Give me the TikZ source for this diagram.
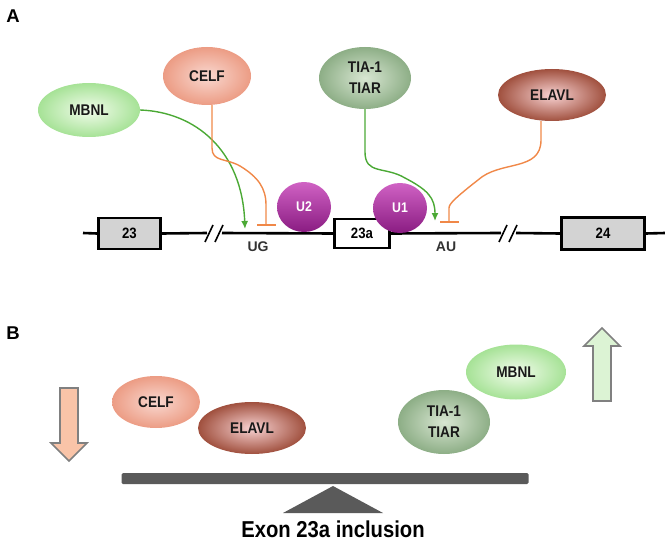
\documentclass[tikz,border=0pt]{standalone}
\usepackage{fontspec}
\setmainfont{Liberation Sans}
\newfontfamily\narrowbold[FakeStretch=0.88]{Liberation Sans Bold}
\usetikzlibrary{shapes.geometric,arrows.meta}

\definecolor{mbnlin}{HTML}{F2FCEC}
\definecolor{mbnlout}{HTML}{A6E296}
\definecolor{celfin}{HTML}{F9D8D0}
\definecolor{celfout}{HTML}{EC9C84}
\definecolor{tiain}{HTML}{D8E6D2}
\definecolor{tiaout}{HTML}{8DAE86}
\definecolor{elavlin}{HTML}{F8D2D2}
\definecolor{elavlout}{HTML}{A0503E}
\definecolor{snrtop}{HTML}{D062C4}
\definecolor{snrbot}{HTML}{8A1C82}
\definecolor{actgreen}{HTML}{4BA935}
\definecolor{reporange}{HTML}{F08848}
\definecolor{exongray}{HTML}{D3D3D3}
\definecolor{beamgray}{HTML}{5A5A5A}
\definecolor{downfill}{HTML}{F9C4A8}
\definecolor{upfill}{HTML}{DCF3D4}

\begin{document}
\begin{tikzpicture}[
      x=1pt, y=-1pt,
      every node/.style={font=\bfseries},
      protein/.style={ellipse, inner sep=0pt, align=center, text=black!90,
        font=\narrowbold\fontsize{15.5}{21}\selectfont},
      mbnlcol/.style={shading=radial, inner color=mbnlin, outer color=mbnlout},
      celfcol/.style={shading=radial, inner color=celfin, outer color=celfout},
      tiacol/.style={shading=radial, inner color=tiain, outer color=tiaout},
      elavlcol/.style={shading=radial, inner color=elavlin, outer color=elavlout},
      snrnp/.style={ellipse, inner sep=0pt, top color=snrtop, bottom color=snrbot,
        text=white, font=\narrowbold\fontsize{14}{16}\selectfont,
        minimum width=54pt, minimum height=50pt},
      exon/.style={draw, line width=2.6pt, fill=exongray, inner sep=0pt,
        font=\narrowbold\fontsize{15}{17}\selectfont},
      backbone/.style={line width=2.6pt},
      site/.style={text=black!80, font=\bfseries\fontsize{14}{16}\selectfont},
      activ/.style={draw=actgreen, line width=1.4pt, -{Latex[length=8pt,width=7pt]}},
      repress/.style={draw=reporange, line width=1.4pt, -{Bar[width=19pt,line width=1.8pt]}},
      change/.style={draw=black!50, line width=1.6pt, line join=miter},
      panel/.style={font=\bfseries\fontsize{18.5}{20}\selectfont}
    ]
      \useasboundingbox (0,0) rectangle (665,543);

      % panel A
      \node[panel] (labA) at (13,16) {A};

      \node[protein, mbnlcol, minimum width=102pt, minimum height=54pt] (mbnlA) at (89,110) {MBNL};
      \node[protein, celfcol, minimum width=88pt, minimum height=58pt] (celfA) at (207,76) {CELF};
      \node[protein, tiacol, minimum width=92pt, minimum height=62pt] (tiaA) at (365,78) {TIA-1\\TIAR};
      \node[protein, elavlcol, minimum width=108pt, minimum height=52pt] (elavlA) at (552,95) {ELAVL};

      \coordinate (start) at (83,233);
      \coordinate (stop) at (665,233);
      \coordinate (brkA) at (214,233);
      \coordinate (brkB) at (508,233);

      \node[exon, minimum width=62pt, minimum height=31pt] (e23) at (129.5,233.5) {23};
      \node[exon, fill=white, minimum width=55pt, minimum height=29pt] (e23a) at (362,233.5) {23a};
      \node[exon, minimum width=83pt, minimum height=32pt] (e24) at (603,233.5) {24};

      \draw[backbone] (start) -- (e23.west);
      \draw[backbone] (e23.east) -- ([xshift=-7pt]brkA);
      \draw[backbone] ([xshift=8pt]brkA) -- (e23a.west);
      \draw[backbone] (e23a.east) -- ([xshift=-7pt]brkB);
      \draw[backbone] ([xshift=8pt]brkB) -- (e24.west);
      \draw[backbone] (e24.east) -- (stop);
      % break marks
      \draw[line width=1.6pt] (brkA) ++(-9,9) -- ++(8,-17) (brkA) ++(1,9) -- ++(8,-17);
      \draw[line width=1.6pt] (brkB) ++(-9,9) -- ++(8,-17) (brkB) ++(1,9) -- ++(8,-17);

      \node[snrnp] (u2) at (304,207) {U2};
      \node[snrnp] (u1) at (400,208) {U1};

      \node[site] (ug) at (258,247) {UG};
      \node[site] (au) at (446,247) {AU};

      \coordinate (ugact) at (245,229);
      \coordinate (ugrep) at (266,226);
      \coordinate (auact) at (435,221);
      \coordinate (aurep) at (449,223);

      \draw[activ] (mbnlA.east) .. controls (195,112) and (242,150) .. (ugact);
      \draw[repress] ([xshift=5pt]celfA.south) -- (212,148)
        .. controls (212,162) and (226,158) .. (240,166)
        .. controls (258,177) and (266,188) .. (266,205) -- (ugrep);
      \draw[activ] (tiaA.south) -- (365,152)
        .. controls (365,175) and (385,166) .. (405,178)
        .. controls (428,190) and (435,198) .. (auact);
      \draw[repress] ([xshift=-11pt]elavlA.south) -- (541,140)
        .. controls (541,172) and (500,160) .. (478,180)
        .. controls (455,198) and (449,204) .. (449,208) -- (aurep);

      % panel B
      \node[panel] (labB) at (13,333) {B};

      \node[protein, celfcol, minimum width=88pt, minimum height=52pt] (celfB) at (156,402) {CELF};
      \node[protein, elavlcol, minimum width=108pt, minimum height=52pt] (elavlB) at (252,428) {ELAVL};
      \node[protein, mbnlcol, minimum width=100pt, minimum height=55pt] (mbnlB) at (516,372) {MBNL};
      \node[protein, tiacol, minimum width=92pt, minimum height=64pt] (tiaB) at (444,422) {TIA-1\\TIAR};

      \filldraw[change, fill=downfill] (60,388) -- (78,388) -- (78,443) -- (87,443)
        -- (69,461) -- (51,443) -- (60,443) -- cycle;
      \filldraw[change, fill=upfill] (593,401) -- (611,401) -- (611,346) -- (620,346)
        -- (602,328) -- (584,346) -- (593,346) -- cycle;

      \node[fill=beamgray, rounded corners=1.5pt, minimum width=407pt, minimum height=11pt,
        inner sep=0pt] (beam) at (325,478.5) {};
      \fill[beamgray] (283,513) -- (333,486) -- (383,513) -- cycle;
      \node[anchor=base, inner sep=1pt, font=\narrowbold\fontsize{23}{25}\selectfont] (caption) at (333,537.5) {Exon 23a inclusion};
    \end{tikzpicture}
\end{document}
